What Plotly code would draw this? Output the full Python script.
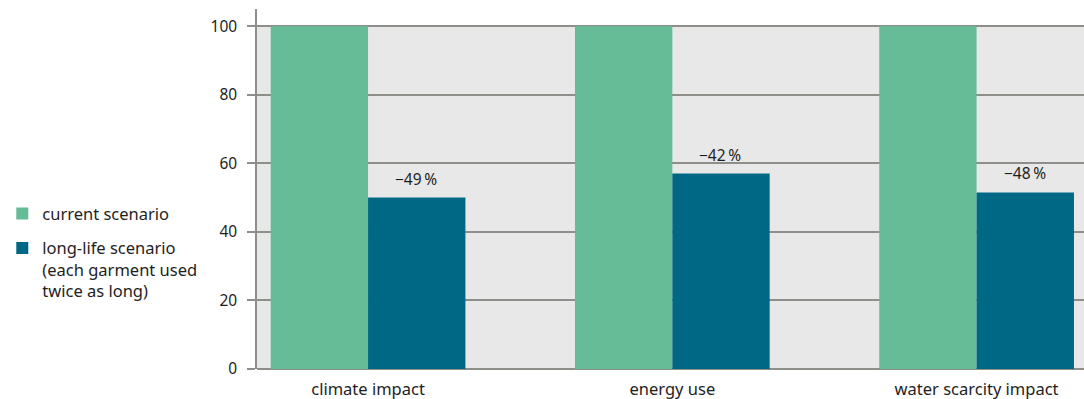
import plotly.graph_objects as go

categories = ["climate impact", "energy use", "water scarcity impact"]
current_values = [100, 100, 100]
longlife_values = [50, 57, 51.5]
change_labels = ["\u221249\u2009%", "\u221242\u2009%", "\u221248\u2009%"]
series_names = ["current scenario", "long-life scenario<br>(each garment used<br>twice as long)"]
y_ticks = [0, 20, 40, 60, 80, 100]

GREEN = "#66bc97"
BLUE = "#006884"
GRID = "#8e8e8a"
TXT = "#1e1e1e"
FONT = "Noto Sans"

fig = go.Figure()
fig.add_trace(go.Bar(x=categories, y=current_values, name=series_names[0],
                     legendgroup="cur",
                     marker=dict(color=GREEN, line=dict(width=0))))
fig.add_trace(go.Bar(x=categories, y=longlife_values, name=series_names[1],
                     legendgroup="long",
                     marker=dict(color=BLUE, line=dict(width=0))))

for c, v, t in zip(categories, longlife_values, change_labels):
    fig.add_annotation(x=c, y=v, text=t, showarrow=False, xref="x", yref="y",
                       xshift=48, yanchor="bottom", yshift=6,
                       font=dict(family=FONT, size=15.5, color=TXT))

fig.add_shape(type="rect", xref="paper", yref="y", x0=0, x1=1, y0=0, y1=100,
              fillcolor="#e8e8e8", line=dict(width=0), layer="below")

fig.update_layout(
    width=1084, height=399,
    margin=dict(l=257, r=0, t=9, b=30),
    paper_bgcolor="white", plot_bgcolor="white",
    barmode="group", bargap=0.36, bargroupgap=0,
    font=dict(family=FONT, size=15, color=TXT),
    showlegend=True,
    legend=dict(x=-0.308, xanchor="left", y=0.48, yanchor="top",
                valign="top", itemwidth=30, tracegroupgap=10,
                font=dict(family=FONT, size=16.5, color=TXT),
                bgcolor="rgba(0,0,0,0)"),
)
fig.update_xaxes(range=[-0.365, 2.353], showline=False, ticks="",
                 tickfont=dict(family=FONT, size=16.5, color=TXT),
                 showgrid=False, zeroline=False, fixedrange=True,
                 ticklabelstandoff=8)
fig.update_yaxes(range=[0, 105], tickvals=y_ticks, showgrid=True,
                 gridcolor=GRID, gridwidth=1.5, showline=True, linecolor=GRID,
                 linewidth=1.5, ticks="outside", ticklen=8, tickcolor=GRID,
                 tickwidth=1.5, zeroline=True, zerolinecolor=GRID, zerolinewidth=1.5,
                 tickfont=dict(family=FONT, size=15.5, color=TXT), ticklabelstandoff=7)

fig.write_html("out.html")
